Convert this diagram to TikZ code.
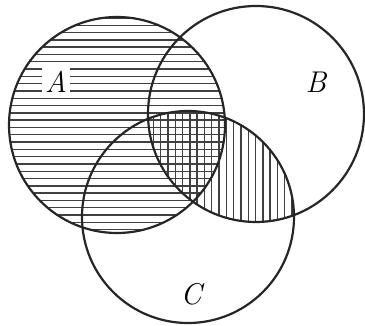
\documentclass[tikz,border=0pt]{standalone}
\begin{document}
\begin{tikzpicture}[x=1pt,y=-1pt,
  circ/.style={line width=2.2pt, black!85},
  hatch/.style={line width=1.4pt, black!75},
  lab/.style={font=\fontsize{30}{30}\selectfont\itshape}]
\useasboundingbox (0,0) rectangle (365,326);
\coordinate (cA) at (117,125);
\coordinate (cB) at (256,114);
\coordinate (cC) at (188,217);
% horizontal hatching in A
\begin{scope}
  \clip (cA) circle[radius=108pt];
  \foreach \i in {0,...,30} {
    \pgfmathsetmacro{\yy}{18+7.3*\i}
    \draw[hatch] (0,\yy) -- (365,\yy);
  }
\end{scope}
% vertical hatching in B and C
\begin{scope}
  \clip (cB) circle[radius=108pt];
  \clip (cC) circle[radius=106pt];
  \foreach \i in {0,...,21} {
    \pgfmathsetmacro{\xx}{146+7.3*\i}
    \draw[hatch] (\xx,0) -- (\xx,326);
  }
\end{scope}
\draw[circ] (cA) circle[radius=108pt];
\draw[circ] (cB) circle[radius=108pt];
\draw[circ] (cC) circle[radius=106pt];
\node[lab, fill=white, inner sep=3pt] (lA) at (56,82) {A};
\node[lab] (lB) at (316,82) {B};
\node[lab] (lC) at (191,294) {C};
\end{tikzpicture}
\end{document}
